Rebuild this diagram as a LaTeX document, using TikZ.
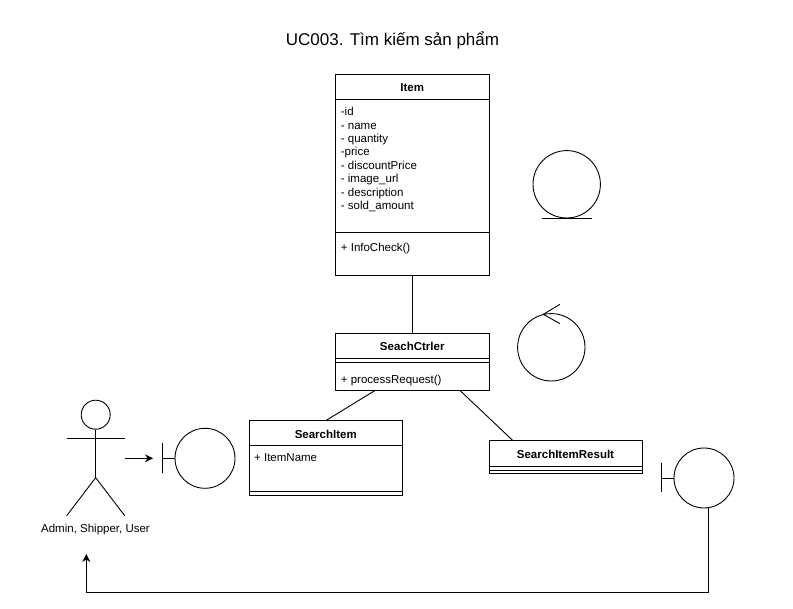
\documentclass[tikz,border=0pt]{standalone}
\usepackage{fontspec}
\setmainfont{Liberation Sans}
\usetikzlibrary{arrows.meta}
\tikzset{
  x=1pt,y=-1pt,
  ln/.style={draw=black,line width=0.9pt},
  box/.style={draw=black,line width=0.9pt,fill=white},
  hd/.style={font=\fontsize{11.5}{13}\selectfont\bfseries,anchor=base,inner sep=0pt},
  tx/.style={font=\fontsize{11.5}{13}\selectfont,anchor=base west,inner sep=0pt},
  flow/.style={draw=black,line width=0.9pt,-{Stealth[length=8pt,width=8pt]}},
  ent/.style={circle,draw=black,line width=0.9pt,minimum size=67.4pt,inner sep=0pt},
}
\begin{document}
\begin{tikzpicture}
\useasboundingbox (0,0) rectangle (793,609);
\fill[white] (0,0) rectangle (793,609);
\node[font=\fontsize{17}{20}\selectfont,inner sep=0pt,anchor=base] (title) at (392.5,45.7) {UC003. Tìm kiếm sản phẩm};

% Item
\node[box,rectangle,minimum width=153.5pt,minimum height=201pt,inner sep=0pt] (item) at (412.25,174.5) {};
\draw[ln] (335.5,99) -- (489,99);
\draw[ln] (335.5,232) -- (489,232);
\node[hd] (itemT) at (412.25,91.3) {Item};
\node[tx] (a1) at (340.7,116) {-id};
\node[tx] (a2) at (340.7,130) {- name};
\node[tx] (a3) at (340.7,143) {- quantity};
\node[tx] (a4) at (340.7,156) {-price};
\node[tx] (a5) at (340.7,170) {- discountPrice};
\node[tx] (a6) at (340.7,183) {- image\_url};
\node[tx] (a7) at (340.7,197) {- description};
\node[tx] (a8) at (340.7,210) {- sold\_amount};
\node[tx] (m1) at (340.7,252) {+ InfoCheck()};

% SeachCtrler
\node[box,rectangle,minimum width=153.5pt,minimum height=57pt,inner sep=0pt] (ctrl) at (412.25,361.5) {};
\draw[ln] (335.5,358) -- (489,358);
\draw[ln] (335.5,362) -- (489,362);
\node[hd] (ctrlT) at (412.25,350.3) {SeachCtrler};
\node[tx] (m2) at (340.7,383.3) {+ processRequest()};

% SearchItem
\node[box,rectangle,minimum width=153.5pt,minimum height=74.5pt,inner sep=0pt] (sitem) at (325.75,457.75) {};
\draw[ln] (249,445) -- (402.5,445);
\draw[ln] (249,491) -- (402.5,491);
\node[hd] (sitemT) at (325.75,438.3) {SearchItem};
\node[tx] (a9) at (254,462) {+ ItemName};

% SearchItemResult
\node[box,rectangle,minimum width=153pt,minimum height=32.5pt,inner sep=0pt] (sres) at (565.5,457) {};
\draw[ln] (489,466) -- (642,466);
\draw[ln] (489,470) -- (642,470);
\node[hd] (sresT) at (565.5,458.3) {SearchItemResult};

% association lines
\coordinate (c1) at (375,390.5);
\coordinate (c2) at (326,420.5);
\coordinate (c3) at (460,390.5);
\coordinate (c4) at (513,440.7);
\draw[ln] (item.south) -- (ctrl.north);
\draw[ln] (c1) -- (c2);
\draw[ln] (c3) -- (c4);

% entity
\node[ent] (ent) at (566.7,184.3) {};
\coordinate (e1) at (541.7,218);
\coordinate (e2) at (591.7,218);
\draw[ln] (e1) -- (e2);

% control
\node[ent] (ctl) at (551.3,347.3) {};
\coordinate (k1) at (560,304.3);
\coordinate (k2) at (543.3,314.3);
\coordinate (k3) at (560,323.7);
\draw[ln] (k1) -- (k2) -- (k3);

% actor
\node[circle,draw=black,line width=0.9pt,minimum size=29pt,inner sep=0pt] (head) at (95.7,414.7) {};
\coordinate (hip) at (95.7,477.7);
\coordinate (armL) at (66.7,438.7);
\coordinate (armR) at (124.7,438.7);
\coordinate (legL) at (66.7,515.7);
\coordinate (legR) at (124.7,515.7);
\draw[ln] (head.south) -- (hip);
\draw[ln] (armL) -- (armR);
\draw[ln] (legL) -- (hip) -- (legR);
\node[font=\fontsize{11.5}{13}\selectfont,inner sep=0pt,anchor=base] (actorL) at (95.5,532.7) {Admin, Shipper, User};

% left boundary
\node[circle,draw=black,line width=0.9pt,minimum size=60pt,inner sep=0pt] (bd1) at (205,458.3) {};
\coordinate (b1t) at (162.7,443.3);
\coordinate (b1b) at (162.7,472.7);
\coordinate (b1m) at (162.7,458.3);
\draw[ln] (b1t) -- (b1b);
\draw[ln] (b1m) -- (bd1.west);
\coordinate (af) at (124.7,458.3);
\coordinate (at) at (153,458.3);
\draw[flow] (af) -- (at);

% right boundary
\node[circle,draw=black,line width=0.9pt,minimum size=60pt,inner sep=0pt] (bd2) at (704,478) {};
\coordinate (b2t) at (661.7,463.3);
\coordinate (b2b) at (661.7,492.5);
\coordinate (b2m) at (661.7,478);
\draw[ln] (b2t) -- (b2b);
\draw[ln] (b2m) -- (bd2.west);

% return
\coordinate (r1) at (86.3,592.3);
\coordinate (r2) at (86.3,554);
\draw[flow] (bd2.-81) |- (r1) -- (r2);
\end{tikzpicture}
\end{document}
